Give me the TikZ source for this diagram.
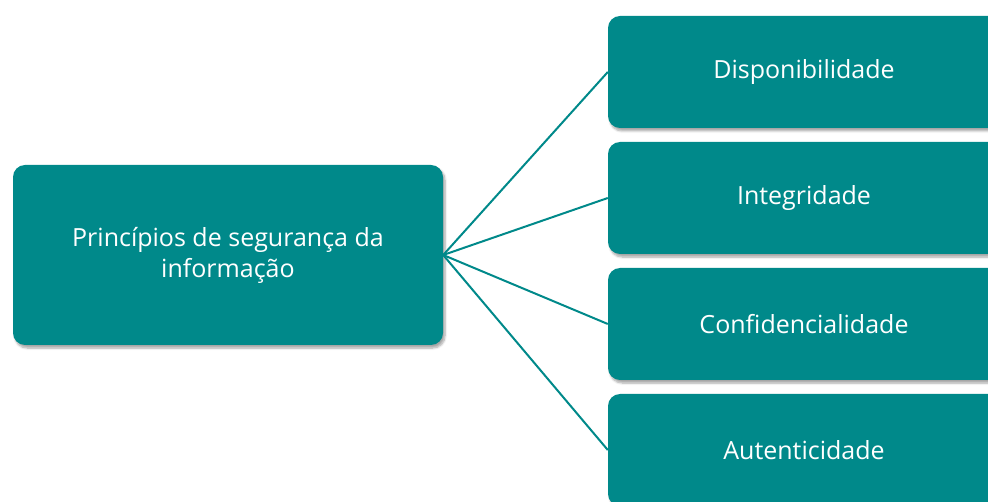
\documentclass[tikz,border=0pt]{standalone}
\usepackage{fontspec}
\setmainfont{Open Sans}
\usetikzlibrary{shadows.blur}
\definecolor{teal1}{HTML}{00898A}
\tikzset{
  box/.style={fill=teal1, rounded corners=12pt, text=white, align=center,
    font=\fontsize{25}{31}\selectfont,
    blur shadow={shadow xshift=2pt, shadow yshift=-3pt, shadow blur steps=6, shadow opacity=35}},
  link/.style={draw=teal1, line width=2pt}
}
\begin{document}
\begin{tikzpicture}[x=1pt,y=-1pt]
\useasboundingbox (0,0) rectangle (988,502);
\clip (0,0) rectangle (988,502);
\node[box, minimum width=430pt, minimum height=180pt] (c) at (228,255) {Princípios de segurança da\\informação};
\node[box, minimum width=392pt, minimum height=112pt] (d) at (804,72) {Disponibilidade};
\node[box, minimum width=392pt, minimum height=112pt] (i) at (804,198) {Integridade};
\node[box, minimum width=392pt, minimum height=112pt] (f) at (804,324) {Confidencialidade};
\node[box, minimum width=392pt, minimum height=112pt] (a) at (804,450) {Autenticidade};
\foreach \t in {d,i,f,a} \draw[link] (c.east) -- (\t.west);
\end{tikzpicture}
\end{document}
